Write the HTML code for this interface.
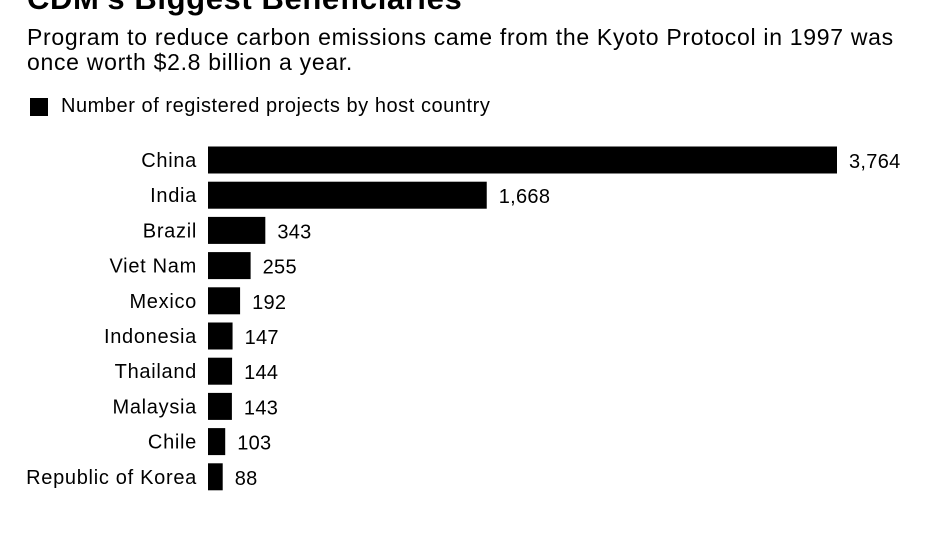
<!DOCTYPE html>
<html><head><meta charset="utf-8"><style>
body{margin:0;width:950px;height:534px;background:#fff;overflow:hidden;font-family:"Liberation Sans",Arial,sans-serif;color:#000;position:relative}
.t{position:absolute;white-space:nowrap}
</style></head><body>
<div class="t" style="left:27px;top:-18px;font-size:31px;font-weight:bold;line-height:34px;letter-spacing:0.6px">CDM's Biggest Beneficiaries</div>
<div class="t" style="left:27px;top:25px;font-size:23px;line-height:25px;letter-spacing:0.7px">Program to reduce carbon emissions came from the Kyoto Protocol in 1997 was<br>once worth $2.8 billion a year.</div>
<div class="t" style="left:30px;top:98px;width:18px;height:18px;background:#000"></div>
<div class="t" style="left:61px;top:94px;font-size:20px;line-height:24px;letter-spacing:0.55px">Number of registered projects by host country</div>
<svg id="c" width="950" height="534" style="position:absolute;left:0;top:0"></svg>
<script>
const countries=["China","India","Brazil","Viet Nam","Mexico","Indonesia","Thailand","Malaysia","Chile","Republic of Korea"];
const values=[3764,1668,343,255,192,147,144,143,103,88];
const labels=["3,764","1,668","343","255","192","147","144","143","103","88"];
const svg=document.getElementById('c');const NS='http://www.w3.org/2000/svg';
const x0=208,xs=v=>v*(629/3764);const yc=i=>160+i*35.2;const bh=27;
countries.forEach((c,i)=>{
 const r=document.createElementNS(NS,'rect');
 
 
 r.setAttribute('x',x0);r.setAttribute('y',yc(i)-bh/2);r.setAttribute('width',xs(values[i]));r.setAttribute('height',bh);r.setAttribute('fill','#000');svg.appendChild(r);
 const t=document.createElementNS(NS,'text');
 
 
 t.setAttribute('x',197);t.setAttribute('y',yc(i)+7);t.setAttribute('text-anchor','end');t.setAttribute('font-size','20');t.setAttribute('letter-spacing','0.7');t.setAttribute('font-family','Liberation Sans, sans-serif');t.textContent=c;svg.appendChild(t);
 const v=document.createElementNS(NS,'text');
 
 
 v.setAttribute('x',x0+xs(values[i])+12);v.setAttribute('y',yc(i)+8);v.setAttribute('font-size','20');v.setAttribute('letter-spacing','0.3');v.setAttribute('font-family','Liberation Sans, sans-serif');v.textContent=labels[i];svg.appendChild(v);
});
</script>
</body></html>
